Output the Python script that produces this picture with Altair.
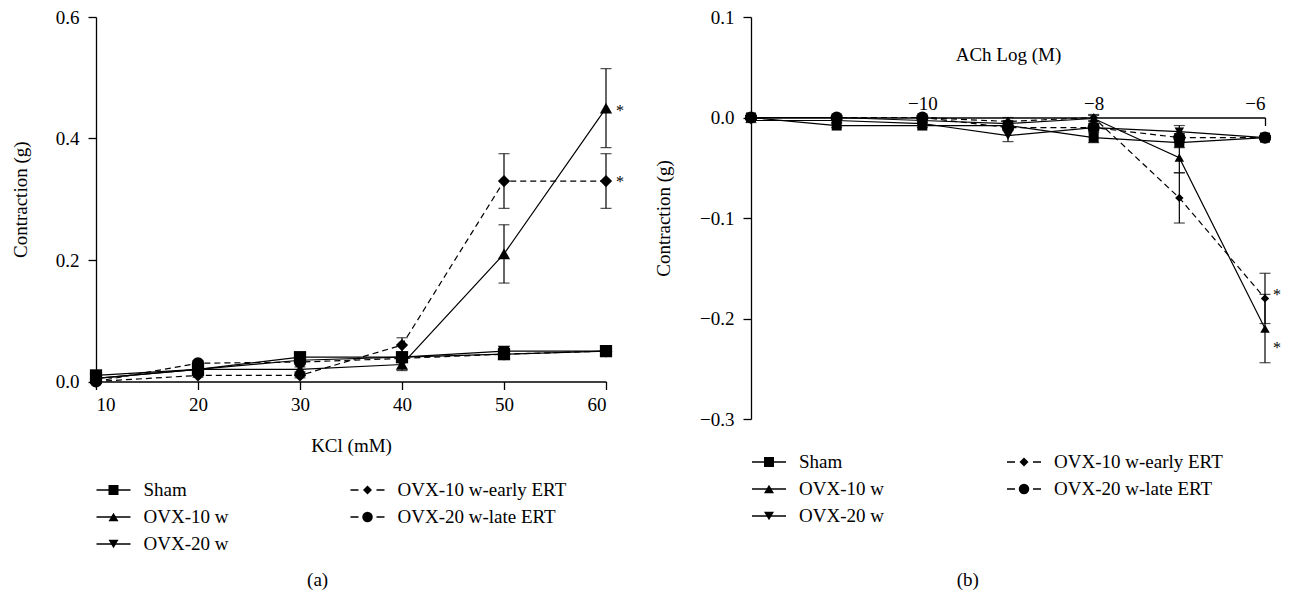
import altair as alt
import pandas as pd

FONT = "Liberation Serif"
FS = 19

# ---------------- data ----------------
SERIES = ["Sham", "OVX-10 w", "OVX-20 w", "OVX-10 w-early ERT", "OVX-20 w-late ERT"]
SHAPES = ["square", "triangle-up", "triangle-down", "diamond", "circle"]
DASHED = [False, False, False, True, True]
LEGEND_COL = [0, 0, 0, 1, 1]
LEGEND_ROW = [0, 1, 2, 0, 1]
STAR_SERIES = ["OVX-10 w", "OVX-10 w-early ERT"]

# Panel (a): KCl (mM)
kcl_mM = [10, 20, 30, 40, 50, 60]
kcl_ticks_y = [0.0, 0.2, 0.4, 0.6]
kcl_sham = [0.010, 0.020, 0.040, 0.040, 0.045, 0.050]
kcl_ovx10 = [0.005, 0.020, 0.020, 0.028, 0.210, 0.450]
kcl_ovx20 = [0.005, 0.020, 0.035, 0.040, 0.050, 0.050]
kcl_early = [0.000, 0.010, 0.010, 0.060, 0.330, 0.330]
kcl_late = [0.000, 0.030, 0.032, 0.038, 0.045, 0.050]
kcl_sham_err = [0.003, 0.003, 0.005, 0.005, 0.006, 0.005]
kcl_ovx10_err = [0.003, 0.003, 0.004, 0.010, 0.048, 0.065]
kcl_ovx20_err = [0.003, 0.003, 0.004, 0.005, 0.005, 0.005]
kcl_early_err = [0.003, 0.003, 0.004, 0.012, 0.045, 0.045]
kcl_late_err = [0.003, 0.004, 0.004, 0.005, 0.005, 0.005]

# Panel (b): ACh log (M)
ach_log = [-12, -11, -10, -9, -8, -7, -6]
ach_ticks_x = [-10, -8, -6]
ach_ticks_y = [-0.3, -0.2, -0.1, 0.0, 0.1]
ach_sham = [0.000, -0.008, -0.008, -0.008, -0.020, -0.025, -0.020]
ach_ovx10 = [0.000, 0.000, -0.003, -0.006, -0.001, -0.040, -0.210]
ach_ovx20 = [-0.003, -0.003, -0.006, -0.018, -0.010, -0.014, -0.020]
ach_early = [0.000, 0.000, 0.000, -0.004, 0.000, -0.080, -0.180]
ach_late = [0.000, 0.000, 0.000, -0.010, -0.010, -0.020, -0.020]
ach_sham_err = [0.002, 0.002, 0.002, 0.003, 0.005, 0.005, 0.002]
ach_ovx10_err = [0.002, 0.002, 0.002, 0.003, 0.003, 0.015, 0.034]
ach_ovx20_err = [0.002, 0.002, 0.002, 0.006, 0.004, 0.006, 0.002]
ach_early_err = [0.002, 0.002, 0.002, 0.004, 0.003, 0.025, 0.025]
ach_late_err = [0.002, 0.002, 0.002, 0.003, 0.003, 0.004, 0.002]

AX = dict(
    domainColor="black", tickColor="black", labelColor="black", titleColor="black",
    domainWidth=1.3, tickWidth=1.3, labelFont=FONT, titleFont=FONT,
    labelFontSize=FS, titleFontSize=FS, titleFontWeight="normal", grid=False,
)


def long_df(xv, means, errs):
    rows = []
    for s, m, e in zip(SERIES, means, errs):
        for x, y, d in zip(xv, m, e):
            rows.append({"series": s, "x": x, "y": y, "lo": y - d, "hi": y + d})
    return pd.DataFrame(rows)


def panel(df, xscale, yscale, xaxis, yaxis, width, height, sizes, star_x, star_dx, star_dy):
    X = alt.X("x:Q", scale=xscale, axis=xaxis)

    def Y(f):
        return alt.Y(f"{f}:Q", scale=yscale, axis=yaxis)

    layers = []
    for i, s in enumerate(SERIES):
        sub = df[df.series == s]
        mk = dict(color="black", strokeWidth=1.2)
        if DASHED[i]:
            mk["strokeDash"] = [6, 4]
        layers.append(alt.Chart(sub).mark_line(**mk).encode(x=X, y=Y("y")))
    layers.append(
        alt.Chart(df).mark_rule(color="black", strokeWidth=1.2)
        .encode(x=X, y=Y("lo"), y2=alt.Y2("hi:Q"))
    )
    for f in ("lo", "hi"):
        layers.append(
            alt.Chart(df).mark_tick(orient="horizontal", size=11, thickness=1.2, color="black")
            .encode(x=X, y=Y(f))
        )
    for i, s in enumerate(SERIES):
        sub = df[df.series == s]
        layers.append(
            alt.Chart(sub).mark_point(shape=SHAPES[i], size=sizes[i], filled=True,
                                      opacity=1, color="black", strokeWidth=0)
            .encode(x=X, y=Y("y"))
        )
    # significance asterisks, anchored to the last point of each starred series
    for s, dy in zip(STAR_SERIES, star_dy):
        sub = df[(df.series == s) & (df.x == star_x)][["x", "y"]].reset_index(drop=True)
        layers.append(
            alt.Chart(sub).mark_text(xOffset=star_dx, yOffset=dy, font=FONT, fontSize=16,
                                     baseline="middle", align="center")
            .encode(x=X, y=Y("y"), text=alt.value("*"), color=alt.value("black"))
        )
    return alt.layer(*layers).properties(width=width, height=height)


def legend_chart(col_range, width):
    df = pd.DataFrame({"series": SERIES, "col": LEGEND_COL, "row": LEGEND_ROW})
    X = alt.X("col:Q", scale=alt.Scale(domain=[0, 1], range=col_range), axis=None)
    Yl = alt.Y("row:Q", scale=alt.Scale(domain=[0, 2], range=[13.5, 67.5]), axis=None)
    leg_sizes = [100, 100, 100, 80, 110]
    layers = []
    for i, s in enumerate(SERIES):
        sub = df[df.series == s]
        mk = dict(color="black", strokeWidth=1.3, xOffset=-17, x2Offset=17)
        if DASHED[i]:
            mk["strokeDash"] = [8, 18]
        layers.append(alt.Chart(sub).mark_rule(**mk).encode(x=X, x2=alt.X2("col:Q"), y=Yl))
        layers.append(
            alt.Chart(sub).mark_point(shape=SHAPES[i], size=leg_sizes[i], filled=True,
                                      opacity=1, color="black", strokeWidth=0)
            .encode(x=X, y=Yl)
        )
    layers.append(
        alt.Chart(df).mark_text(align="left", baseline="middle", dx=30, font=FONT,
                                fontSize=FS, color="black")
        .encode(x=X, y=Yl, text="series:N")
    )
    return alt.layer(*layers).properties(width=width, height=81)


df_a = long_df(kcl_mM,
               [kcl_sham, kcl_ovx10, kcl_ovx20, kcl_early, kcl_late],
               [kcl_sham_err, kcl_ovx10_err, kcl_ovx20_err, kcl_early_err, kcl_late_err])
df_b = long_df(ach_log,
               [ach_sham, ach_ovx10, ach_ovx20, ach_early, ach_late],
               [ach_sham_err, ach_ovx10_err, ach_ovx20_err, ach_early_err, ach_late_err])

plot_a = panel(
    df_a,
    alt.Scale(domain=[10, 60], nice=False, zero=False),
    alt.Scale(domain=[0, 0.6], nice=False),
    alt.Axis(values=kcl_mM, format="d", tickSize=8, labelPadding=6, title="KCl (mM)",
             titlePadding=22, **AX),
    alt.Axis(values=kcl_ticks_y, format=".1f", tickSize=8, labelPadding=9,
             title="Contraction (g)", titlePadding=25, **AX),
    510, 364.5,
    [150, 150, 150, 150, 150],
    60, 14, [3, 1],
)

plot_b = panel(
    df_b,
    alt.Scale(domain=[-12, -6], nice=False, zero=False),
    alt.Scale(domain=[-0.3, 0.1], nice=False, zero=False),
    alt.Axis(orient="bottom", offset=-301.5, values=ach_ticks_x, format="d", tickSize=8,
             labelPadding=-16, labelBaseline="alphabetic", title="ACh Log (M)",
             titleX=257, titleY=-63, titleBaseline="middle", titleAlign="center", **AX),
    alt.Axis(values=ach_ticks_y, format=".1f", tickSize=8, labelPadding=9,
             title="Contraction (g)", titlePadding=26, **AX),
    514, 402,
    [100, 90, 90, 70, 150],
    # OVX-10 w star sits below its point, early-ERT star beside its point
    -6, 12, [19, -3],
)

title_style = dict(orient="bottom", font=FONT, fontSize=FS, fontWeight="normal",
                   anchor="middle", color="black")

col_a = alt.vconcat(plot_a, legend_chart([17.5, 271.5], 480), spacing=20.5).properties(
    title=alt.TitleParams("(a)", offset=13, **title_style))
col_b = alt.vconcat(plot_b, legend_chart([18, 273], 480), spacing=19.5).properties(
    title=alt.TitleParams("(b)", offset=41, **title_style))

chart = (
    alt.hconcat(col_a, col_b, spacing=30)
    .properties(padding={"left": 3, "top": 0, "right": 0, "bottom": 0})
    .configure_view(strokeWidth=0)
)

chart.save("out.html", embed_options={"renderer": "svg", "actions": False})
